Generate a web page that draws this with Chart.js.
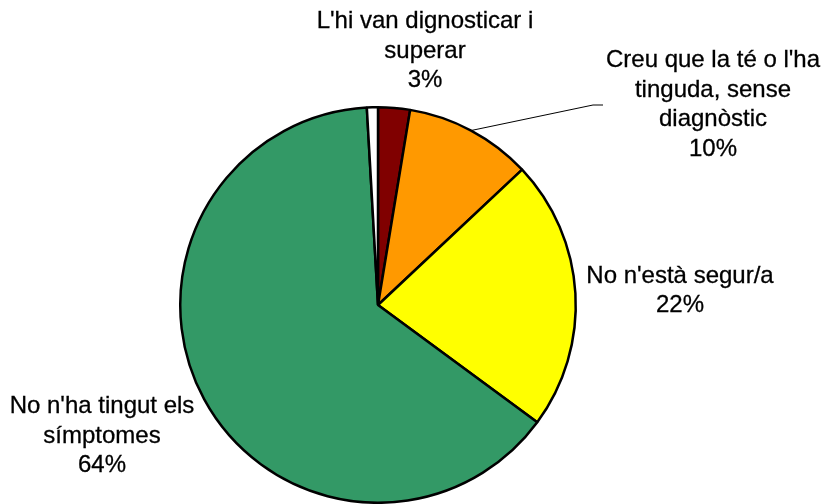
<!DOCTYPE html>
<html>
<head>
<meta charset="utf-8">
<script src="https://cdn.jsdelivr.net/npm/chart.js@4.4.1/dist/chart.umd.min.js"></script>
<style>
  html, body { margin: 0; padding: 0; background: #ffffff; }
  #wrap { width: 824px; height: 504px; position: relative; }
</style>
</head>
<body>
<div id="wrap"><canvas id="c" width="824" height="504"></canvas></div>
<script>
// ---- data ----
const categories = [
  "L'hi van dignosticar i superar",
  "Creu que la té o l'ha tinguda, sense diagnòstic",
  "No n'està segur/a",
  "No n'ha tingut els símptomes",
  "Altres"
];
const values = [2.6, 10.4, 22.1, 64.0, 0.9];
const percentLabels = ["3%", "10%", "22%", "64%", ""];
const labelLines = [
  ["L'hi van dignosticar i", "superar"],
  ["Creu que la té o l'ha", "tinguda, sense", "diagnòstic"],
  ["No n'està segur/a"],
  ["No n'ha tingut els", "símptomes"],
  []
];
const colors = ["#800000", "#FF9900", "#FFFF00", "#339966", "#FFFFFF"];

// ---- layout of labels (offsets of text-block centre from pie centre) ----
const labelOffsets = [[47, -254], [335, -200], [302, -14], [-276, 131], null];
const FONT_PX = 24;
const LINE_H = 29.5;

const labelPlugin = {
  id: 'outerLabels',
  afterDraw(chart) {
    const ctx = chart.ctx;
    const arcs = chart.getDatasetMeta(0).data;
    const cx = arcs[0].x, cy = arcs[0].y;
    ctx.save();
    ctx.font = FONT_PX + "px 'Liberation Sans', Arial, sans-serif";
    ctx.fillStyle = "#000000";
    ctx.strokeStyle = "#000000";
    ctx.lineWidth = 0.3;
    ctx.textAlign = "center";
    ctx.textBaseline = "middle";
    labelLines.forEach((lines, i) => {
      if (!labelOffsets[i]) return;
      const all = lines.concat([percentLabels[i]]);
      const bx = cx + labelOffsets[i][0];
      const by = cy + labelOffsets[i][1];
      const top = by - (all.length - 1) * LINE_H / 2;
      all.forEach((t, k) => {
        ctx.fillText(t, bx, top + k * LINE_H);
        ctx.strokeText(t, bx, top + k * LINE_H);
      });
    });
    // leader line for the orange slice
    const a = arcs[1];
    const mid = (a.startAngle + a.endAngle) / 2;
    const r = a.outerRadius;
    const sx = cx + Math.cos(mid) * r, sy = cy + Math.sin(mid) * r;
    ctx.lineWidth = 1;
    ctx.beginPath();
    ctx.moveTo(sx, sy);
    ctx.lineTo(cx + 215, cy - 200);
    ctx.lineTo(cx + 225, cy - 200);
    ctx.stroke();
    ctx.restore();
  }
};

new Chart(document.getElementById('c'), {
  type: 'pie',
  data: {
    labels: categories,
    datasets: [{
      data: values,
      backgroundColor: colors,
      borderColor: "#000000",
      borderWidth: 2.5,
      borderAlign: 'center'
    }]
  },
  options: {
    responsive: false,
    animation: false,
    layout: { padding: { left: 0, right: 68, top: 106, bottom: 0 } },
    plugins: {
      legend: { display: false },
      tooltip: { enabled: false },
      title: { display: false }
    }
  },
  plugins: [labelPlugin]
});
</script>
</body>
</html>
